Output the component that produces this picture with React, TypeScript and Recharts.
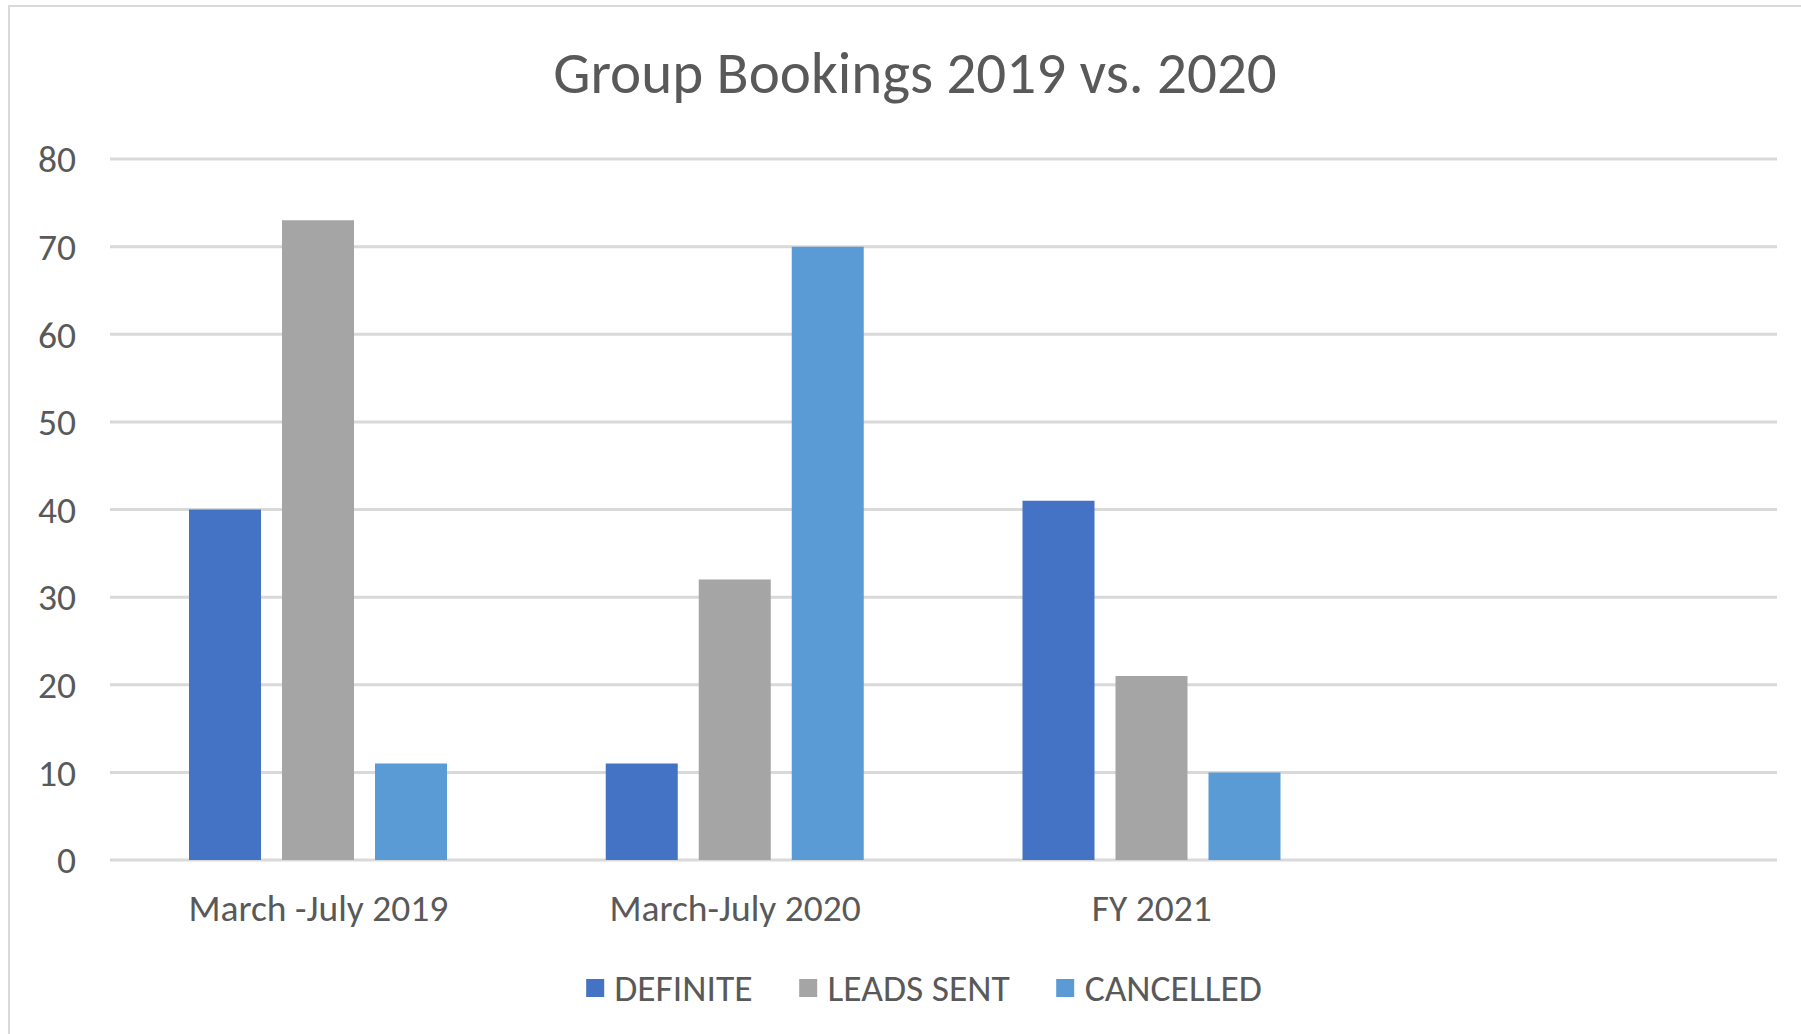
import React from 'react';
import { BarChart, Bar, XAxis, YAxis, CartesianGrid } from 'recharts';

const categories = ['March -July 2019', 'March-July 2020', 'FY 2021', ''];
const definite = [40, 11, 41];
const leadsSent = [73, 32, 21];
const cancelled = [11, 70, 10];
const yTicks = [0, 10, 20, 30, 40, 50, 60, 70, 80];

const series = [
  { key: 'definite', name: 'DEFINITE', color: '#4472C4' },
  { key: 'leadsSent', name: 'LEADS SENT', color: '#A5A5A5' },
  { key: 'cancelled', name: 'CANCELLED', color: '#5B9BD5' },
];

const data = categories.map((name, i) => ({
  name,
  definite: definite[i],
  leadsSent: leadsSent[i],
  cancelled: cancelled[i],
}));

const FONT = 'Carlito, Lato, "Open Sans", sans-serif';
const TEXT = '#595959';
const GRID = '#D9D9D9';
const LABEL_SIZE = 37.5;

export default function App() {
  return (
    <div
      style={{
        position: 'absolute',
        left: 0,
        top: 0,
        width: 1801,
        height: 1034,
        overflow: 'hidden',
        background: '#fff',
        fontFamily: FONT,
      }}
    >
      {/* chart frame, only top and left edges are visible */}
      <div style={{ position: 'absolute', left: 8, top: 5, width: 1793, height: 2, background: GRID }} />
      <div style={{ position: 'absolute', left: 8, top: 5, width: 2, height: 1029, background: GRID }} />

      <div
        style={{
          position: 'absolute',
          left: 415,
          width: 1000,
          top: 33,
          textAlign: 'center',
          fontSize: 59,
          color: TEXT,
          lineHeight: '80px',
        }}
      >
        Group Bookings 2019 vs. 2020
      </div>

      <div style={{ position: 'absolute', left: 0, top: 0 }}>
        <BarChart
          width={1801}
          height={1034}
          data={data}
          margin={{ top: 159, right: 24, bottom: 114, left: 10 }}
          barGap={21}
          barSize={72}
        >
          <CartesianGrid vertical={false} stroke={GRID} strokeWidth={3} />
          <XAxis
            dataKey="name"
            axisLine={false}
            tickLine={false}
            tickSize={0}
            tickMargin={34}
            height={60}
            interval={0}
            tick={{ fill: TEXT, fontSize: LABEL_SIZE, fontFamily: FONT }}
          />
          <YAxis
            domain={[0, 80]}
            ticks={yTicks}
            width={100}
            axisLine={false}
            tickLine={false}
            tickSize={0}
            tickMargin={34}
            interval={0}
            tick={{ fill: TEXT, fontSize: LABEL_SIZE, fontFamily: FONT }}
          />
          {series.map((s) => (
            <Bar key={s.key} dataKey={s.key} name={s.name} fill={s.color} isAnimationActive={false} />
          ))}
        </BarChart>
      </div>

      <div
        style={{
          position: 'absolute',
          left: 924,
          top: 967,
          transform: 'translateX(-50%)',
          display: 'flex',
          alignItems: 'center',
          whiteSpace: 'nowrap',
          fontSize: LABEL_SIZE,
          color: TEXT,
          lineHeight: '42px',
        }}
      >
        {series.map((s, i) => (
          <div key={s.key} style={{ display: 'flex', alignItems: 'center', marginLeft: i === 0 ? 0 : 47 }}>
            <span style={{ width: 18, height: 18, background: s.color, marginRight: 10, display: 'inline-block' }} />
            <span>{s.name}</span>
          </div>
        ))}
      </div>
    </div>
  );
}
